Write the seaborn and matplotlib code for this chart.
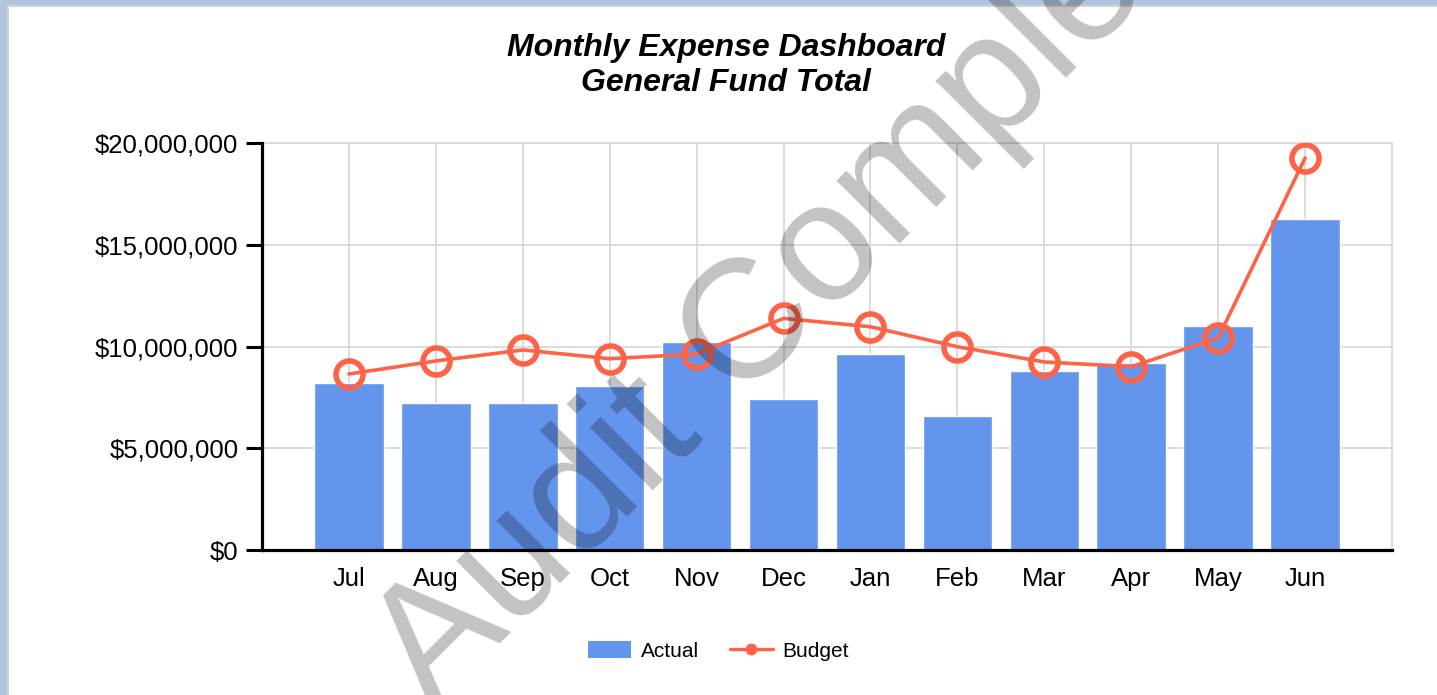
import matplotlib
matplotlib.use("Agg")
import matplotlib.pyplot as plt
from matplotlib.patches import Rectangle, Patch
from matplotlib.lines import Line2D
from matplotlib.ticker import FuncFormatter
import seaborn as sns
import pandas as pd

# Monthly figures for the General Fund (fiscal year Jul–Jun)
months = ["Jul", "Aug", "Sep", "Oct", "Nov", "Dec", "Jan", "Feb", "Mar", "Apr", "May", "Jun"]
actual = [8.21e6, 7.22e6, 7.22e6, 8.06e6, 10.22e6, 7.42e6, 9.63e6, 6.58e6, 8.81e6, 9.19e6, 11.0e6, 16.27e6]
budget = [8.65e6, 9.29e6, 9.83e6, 9.40e6, 9.63e6, 11.38e6, 10.97e6, 9.99e6, 9.24e6, 9.01e6, 10.42e6, 19.26e6]
y_ticks = [0, 5e6, 10e6, 15e6, 20e6]

df = pd.DataFrame({"Month": months, "Actual": actual, "Budget": budget})

BAR_COLOR = "#6495ED"
LINE_COLOR = "#FF6347"
GRID_COLOR = "#d9d9d9"

sns.set_theme(style="white")
plt.rcParams["font.family"] = ["Liberation Sans", "DejaVu Sans"]

W, H = 1437, 695
fig = plt.figure(figsize=(W / 100, H / 100), dpi=100)
fig.patch.set_facecolor("white")

ax = fig.add_axes([262 / W, 1 - 550 / H, (1392 - 262) / W, (550 - 143) / H])
ax.set_facecolor("white")

sns.barplot(data=df, x="Month", y="Actual", order=months, color=BAR_COLOR,
            saturation=1, width=0.8, ax=ax, zorder=2)
sns.pointplot(data=df, x="Month", y="Budget", order=months, color=LINE_COLOR,
              errorbar=None, markers="o", linestyles="-", ax=ax,
              markersize=19.5, markerfacecolor="none", markeredgewidth=4.0,
              linewidth=2.6, zorder=4)

ax.set_xlim(-1, 12)
ax.set_ylim(0, 20e6)
ax.set_xlabel("")
ax.set_ylabel("")

# vertical grid at each month plus the right frame edge
ax.set_xticks(range(len(months)))
ax.set_xticklabels(months, fontsize=18.5)
ax.set_yticks(y_ticks)
ax.yaxis.set_major_formatter(FuncFormatter(lambda v, _: f"${v:,.0f}"))
ax.tick_params(axis="y", labelsize=18.5, length=11.5, width=2.2, pad=5.5,
               color="black", labelcolor="black", left=True)
ax.tick_params(axis="x", length=0, pad=12, labelcolor="black")
ax.set_axisbelow(True)
ax.grid(True, axis="both", color=GRID_COLOR, linewidth=1.3)

for side in ("left", "bottom"):
    ax.spines[side].set_visible(True)
    ax.spines[side].set_color("black")
    ax.spines[side].set_linewidth(2.3)
for side in ("top", "right"):
    ax.spines[side].set_visible(True)
    ax.spines[side].set_color(GRID_COLOR)
    ax.spines[side].set_linewidth(1.3)
    ax.spines[side].set_zorder(0.5)

# title
fig.text(726 / W, 1 - 56 / H, "Monthly Expense Dashboard", ha="center", va="baseline",
         fontsize=23, fontweight="bold", fontstyle="italic", color="black")
fig.text(726 / W, 1 - 91 / H, "General Fund Total", ha="center", va="baseline",
         fontsize=23, fontweight="bold", fontstyle="italic", color="black")

# legend
handles = [
    Patch(facecolor=BAR_COLOR, edgecolor="none", label="Actual"),
    Line2D([], [], color=LINE_COLOR, linewidth=2.4, marker="o", markersize=7.5, label="Budget"),
]
fig.legend(handles=handles, loc="center", bbox_to_anchor=(0.5, 1 - 651 / H), ncol=2,
           frameon=False, fontsize=15, handlelength=2.05, handleheight=0.9,
           handletextpad=0.47, columnspacing=1.5, labelcolor="black")

# window frame along the top and left edges
px = fig.dpi_scale_trans  # inches
def add_rect(x, y, w, h, color):
    fig.patches.append(Rectangle((x / 100, (H - y - h) / 100), w / 100, h / 100,
                                 transform=px, facecolor=color, edgecolor="none", zorder=1))
add_rect(0, 0, W, 4.5, "#b0c4de")
add_rect(0, 4.5, W, 2, "#d4d4d4")
add_rect(0, 0, 6.5, H, "#b0c4de")
add_rect(6.5, 6.5, 2.5, H, "#d4d4d4")

# watermark
fig.text(432 / W, 1 - 711 / H, "Audit Complete", rotation=45, rotation_mode="anchor",
         ha="left", va="baseline", fontsize=122, color="black", alpha=0.24, zorder=10)

fig.savefig("out.png", dpi=100)
